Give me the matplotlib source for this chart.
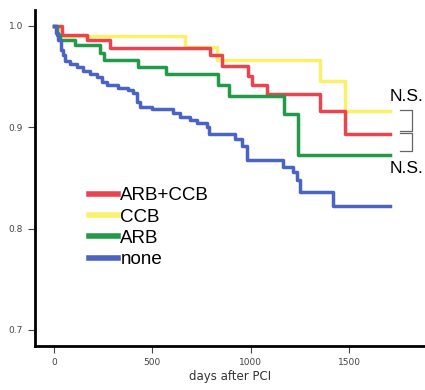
import matplotlib
matplotlib.use("Agg")
import matplotlib.pyplot as plt

# Kaplan-Meier style step data (days, survival)
arb_ccb_days = [0, 41, 168, 284, 792, 853, 985, 1005, 1081, 1350, 1477, 1706]
arb_ccb_surv = [1.0, 0.991, 0.986, 0.978, 0.971, 0.960, 0.950, 0.942, 0.933, 0.916, 0.893, 0.893]

ccb_days = [0, 30, 665, 830, 1350, 1477, 1706]
ccb_surv = [1.0, 0.990, 0.979, 0.966, 0.946, 0.916, 0.916]

arb_days = [0, 15, 30, 107, 234, 254, 426, 569, 832, 888, 1168, 1239, 1706]
arb_surv = [1.0, 0.991, 0.986, 0.981, 0.973, 0.966, 0.959, 0.952, 0.942, 0.931, 0.913, 0.873, 0.873]

none_days = [0, 10, 20, 36, 46, 56, 81, 117, 147, 183, 218, 244, 269, 325, 376, 401,
             421, 437, 497, 604, 640, 690, 726, 777, 787, 919, 954, 980, 1162, 1213,
             1234, 1249, 1416, 1706]
none_surv = [1.0, 0.993, 0.986, 0.976, 0.971, 0.965, 0.962, 0.959, 0.955, 0.952, 0.949,
             0.945, 0.942, 0.939, 0.937, 0.934, 0.925, 0.920, 0.918, 0.914, 0.910, 0.907,
             0.904, 0.900, 0.893, 0.888, 0.881, 0.868, 0.861, 0.856, 0.848, 0.836, 0.822,
             0.822]

labels = ["ARB+CCB", "CCB", "ARB", "none"]
colors = ["#ea4450", "#fbf06a", "#23994a", "#4a63c4"]

fig = plt.figure(figsize=(4.25, 3.9), dpi=100)
ax = fig.add_axes([0.082, 0.113, 0.918, 0.862])

# draw order: yellow under red, then green, blue
ax.step(ccb_days, ccb_surv, where="post", color=colors[1], lw=2.5, label=labels[1])
ax.step(arb_ccb_days, arb_ccb_surv, where="post", color=colors[0], lw=2.5, label=labels[0])
ax.step(arb_days, arb_surv, where="post", color=colors[2], lw=2.5, label=labels[2])
ax.step(none_days, none_surv, where="post", color=colors[3], lw=2.5, label=labels[3])

ax.set_xlim(-96, 1883)
ax.set_ylim(0.6842, 1.0158)
ax.set_xticks([0, 500, 1000, 1500])
ax.set_yticks([0.7, 0.8, 0.9, 1.0])
ax.set_yticklabels(["0.7", "0.8", "0.9", "1.0"])
ax.tick_params(axis="both", labelsize=6.5, labelcolor="#444444", color="#444444",
               width=0.8, length=5, direction="out")
ax.set_xlabel("days after PCI", fontsize=8.5, color="#333333", labelpad=2)

for side in ["top", "right"]:
    ax.spines[side].set_visible(False)
for side in ["left", "bottom"]:
    ax.spines[side].set_linewidth(2.0)

# legend in the order of the original
handles, labs = ax.get_legend_handles_labels()
order = [labs.index(l) for l in labels]
leg = ax.legend([handles[i] for i in order], [labs[i] for i in order],
                loc="upper left", bbox_to_anchor=(0.115, 0.50), frameon=False,
                handlelength=1.55, handletextpad=0.12, labelspacing=0.22,
                borderpad=0, prop={"family": "Liberation Sans", "size": 13.5})
for line in leg.get_lines():
    line.set_linewidth(4)

# N.S. brackets between end values
bx0, bx1 = 1756, 1817
for top, bot in [(ccb_surv[-1], arb_ccb_surv[-1]), (arb_ccb_surv[-1], arb_surv[-1])]:
    ax.plot([bx0, bx1, bx1, bx0], [top + 0.0012, top + 0.0012, bot + 0.0030, bot + 0.0030],
            color="#666666", lw=0.9, clip_on=False)
ax.text(1706, 0.930, "N.S.", fontsize=12.5, family="Liberation Sans", va="center", ha="left")
ax.text(1706, 0.859, "N.S.", fontsize=12.5, family="Liberation Sans", va="center", ha="left")

fig.savefig("out.png", dpi=100)
